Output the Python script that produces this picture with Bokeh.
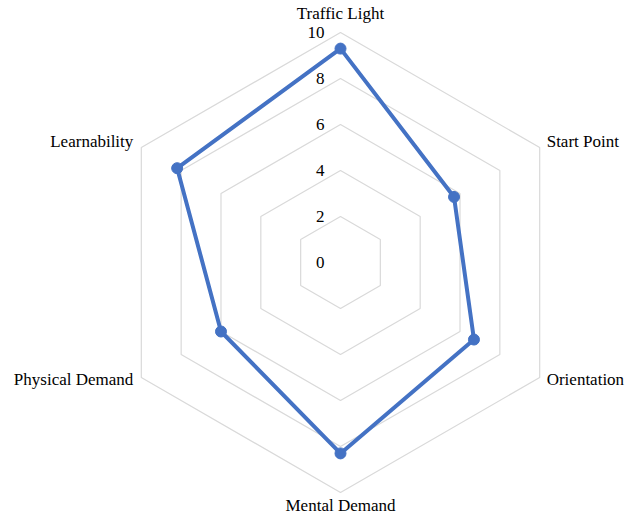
import math
from bokeh.plotting import figure
from bokeh.models import Range1d, ColumnDataSource
from bokeh.core.properties import value
from bokeh.embed import file_html
from bokeh.resources import INLINE

categories = ["Traffic Light", "Start Point", "Orientation", "Mental Demand", "Physical Demand", "Learnability"]
scores = [9.3, 5.7, 6.7, 8.3, 6.0, 8.2]
tick_values = [0, 2, 4, 6, 8, 10]
tick_labels = ["0", "2", "4", "6", "8", "10"]
grid_levels = [2, 4, 6, 8, 10]

W, H = 634, 518
unit = 23.0  # px per value unit
cx, cy = 340, 262  # centre within the figure (px)

p = figure(width=W, height=H, output_backend="svg", toolbar_location=None,
           x_range=Range1d(-cx / unit, (W - cx) / unit),
           y_range=Range1d(-(H - cy) / unit, cy / unit),
           min_border=0, min_border_left=0, min_border_right=0,
           min_border_top=0, min_border_bottom=0)
p.axis.visible = False
p.grid.visible = False
p.outline_line_color = None
p.background_fill_color = "white"
p.border_fill_color = "white"

n = len(categories)
angles = [math.pi / 2 - 2 * math.pi * i / n for i in range(n)]

# grid hexagons
for lv in grid_levels:
    xs = [lv * math.cos(a) for a in angles] + [lv * math.cos(angles[0])]
    ys = [lv * math.sin(a) for a in angles] + [lv * math.sin(angles[0])]
    p.line(xs, ys, line_color="#D9D9D9", line_width=1.2)

# series
sx = [v * math.cos(a) for v, a in zip(scores, angles)]
sy = [v * math.sin(a) for v, a in zip(scores, angles)]
p.line(sx + [sx[0]], sy + [sy[0]], line_color="#4472C4", line_width=4, line_join="round")
p.scatter(sx, sy, size=11, fill_color="#4472C4", line_color="#4472C4")

# tick labels
p.text(x=[0] * len(tick_values), y=tick_values, text=tick_labels,
       text_font=value("Liberation Serif"), text_font_size="17px",
       text_color="#000000", text_align="right", text_baseline="middle",
       x_offset=-16, y_offset=0)

# category labels
aligns = ["center", "left", "left", "center", "right", "right"]
xoff = [0, 7, 7, 0, -8, -8]
yoff = [-19, -6, 2, 13, 2, -6]
rmax = max(tick_values)
src = ColumnDataSource(dict(
    x=[rmax * math.cos(a) for a in angles],
    y=[rmax * math.sin(a) for a in angles],
    t=categories, al=aligns, xo=xoff, yo=yoff))
p.text(x="x", y="y", text="t", source=src, text_align="al",
       x_offset="xo", y_offset="yo", text_baseline="middle",
       text_font=value("Liberation Serif"), text_font_size="17px",
       text_color="#000000")

open("out.html", "w").write(file_html(p, INLINE))
